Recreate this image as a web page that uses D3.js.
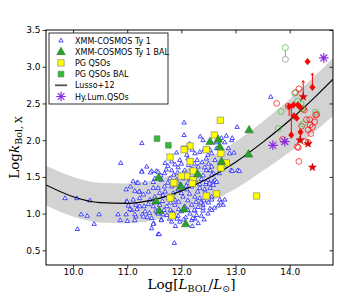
<!DOCTYPE html>
<html lang="en">
  <head>
    <meta charset="UTF-8"/>
    <title>Bolometric correction</title>
    <script src="https://cdn.jsdelivr.net/npm/d3@7"></script>
    <style>
      body { margin: 0; background: #fff; }
      .tick text { font: 9px 'DejaVu Sans', sans-serif; fill: #000; }
      .axis path, .axis line { stroke: #000; stroke-width: 0.8px; }
      .legend text { font: 8px 'DejaVu Sans', sans-serif; }
      .axis-label { font-family: 'DejaVu Serif', serif; font-size: 13.5px; }
    </style>
  </head>
  <body>
    <script type="text/javascript">

        // ---- data ----
        const xTicks = [10, 11, 12, 13, 14]
        const yTicks = [0.5, 1.0, 1.5, 2.0, 2.5, 3.0, 3.5]

        // Lusso+12 relation and its grey band
        const curveX = [9.5, 10, 10.5, 11, 11.5, 12, 12.5, 13, 13.5, 14, 14.5, 14.8]
        const curveY = [1.39, 1.23, 1.15, 1.14, 1.19, 1.31, 1.48, 1.70, 1.97, 2.27, 2.61, 2.83]
        const bandHi = [1.65, 1.50, 1.42, 1.41, 1.46, 1.58, 1.76, 1.98, 2.25, 2.56, 2.90, 3.12]
        const bandLo = [1.11, 0.96, 0.88, 0.87, 0.91, 1.01, 1.15, 1.34, 1.58, 1.84, 2.14, 2.33]

        const xmmTy1 = [
          [9.85,1.21],[10.07,1.21],[10.31,1.18],[10.15,0.99],[10.26,0.97],[10.48,0.99],[10.39,0.86],[10.08,0.79],
          [10.88,1.69],[10.83,0.99],[10.99,1.17],[11.0,0.90],[11.11,1.44],[10.98,1.33],[11.02,1.11],[11.08,1.05],
          [11.16,0.96],[11.14,1.31],[11.18,1.42],[11.23,1.30],[11.27,1.58],[11.36,1.64],[11.45,1.58],[11.54,1.58],
          [11.30,1.26],[11.39,1.30],[11.48,1.35],[11.23,1.10],[11.33,1.03],[11.39,1.13],[11.45,0.94],[11.49,0.87],
          [11.45,0.80],[11.57,0.72],[11.63,0.92],[11.57,1.01],[11.66,0.99],
          [11.27,1.96],[11.27,1.57],[11.43,1.56],[11.20,1.42],[11.33,1.42],[11.48,1.43],[11.06,1.37],[11.22,1.30],
          [11.00,1.16],[11.11,1.19],[11.23,1.21],[11.42,1.19],[11.51,1.16],[11.16,1.12],[11.31,1.10],[11.48,1.10],
          [10.98,0.99],[11.05,1.06],[11.18,1.06],[11.14,0.99],[11.28,0.99],[11.41,1.01],[11.53,1.04],[10.87,0.91],
          [11.14,0.91],[11.30,0.96],[11.37,0.95],[11.48,0.86],
          [12.05,2.24],[11.91,1.83],[12.10,1.80],[12.25,1.82],[12.34,1.84],[12.20,1.87],[11.70,1.69],[11.82,1.71],
          [11.97,1.73],[12.29,1.73],[11.57,1.57],[11.69,1.55],[11.82,1.59],[11.94,1.63],[12.06,1.59],[12.19,1.61],
          [12.31,1.64],[12.43,1.63],[12.53,1.59],[12.59,1.55],[11.51,1.48],[11.63,1.46],[11.79,1.48],[11.91,1.46],
          [12.03,1.48],[12.16,1.48],[12.37,1.47],[12.49,1.46],[12.59,1.44],[11.57,1.35],[11.69,1.37],[11.82,1.37],
          [11.94,1.33],[12.10,1.33],[12.19,1.37],[12.34,1.35],[12.43,1.33],[12.53,1.35],[11.51,1.23],[11.66,1.25],
          [11.76,1.21],[11.88,1.19],[12.03,1.23],[12.25,1.23],[12.34,1.21],[12.47,1.25],[12.56,1.23],[11.60,1.12],
          [11.73,1.10],[11.88,1.12],[12.06,1.10],[12.19,1.12],[12.31,1.09],[12.40,1.12],[12.53,1.07],[11.57,1.00],
          [11.73,0.98],[11.85,1.01],[11.94,0.97],[12.16,1.00],[12.28,0.98],[12.37,0.97],[12.49,1.00],[11.63,0.91],
          [11.82,0.89],[11.97,0.89],[12.19,0.91],[12.31,0.87],[11.59,0.72],[11.89,0.83],[12.20,0.83],
          [11.62,1.52],[11.75,1.42],[11.86,1.53],[11.98,1.40],[12.12,1.42],[12.26,1.45],[12.40,1.52],[11.70,1.30],
          [11.85,1.28],[12.00,1.28],[12.15,1.27],[12.30,1.30],[12.45,1.40],[11.65,1.17],[11.80,1.15],[11.95,1.16],
          [12.12,1.18],[12.27,1.16],[12.42,1.18],[11.68,1.05],[11.80,1.05],[12.00,1.03],[12.12,1.05],[12.25,1.04],
          [12.40,1.04],[11.78,0.93],[11.92,0.93],[12.08,0.95],[12.25,0.93],[12.42,0.92],[11.75,1.65],[11.88,1.67],
          [12.00,1.68],[12.13,1.66],[12.24,1.68],[12.38,1.70],
          [13.03,2.18],[12.83,2.06],[12.74,2.03],[12.65,1.97],[12.80,1.97],[12.93,2.00],[12.53,1.87],[12.65,1.89],
          [12.87,1.89],[12.97,1.83],[12.89,1.82],[12.56,1.82],[12.46,1.75],[12.62,1.73],[12.83,1.70],[12.50,1.68],
          [12.92,1.59],[13.04,1.59],[12.46,1.59],[12.56,1.53],[12.62,1.46],[12.46,1.43],[12.52,1.41],[12.59,1.39],
          [12.65,1.43],[12.56,1.19],[12.50,1.15],[12.71,1.19],[12.80,1.19],[12.77,1.12],[12.68,1.11],[12.56,1.05],
          [13.07,1.58],[12.94,1.58],[12.73,1.15],[12.61,1.08],[12.24,1.05],[12.21,0.94],[12.36,1.15],[11.87,0.60],
          [12.40,1.08],[13.65,2.59],[12.05,2.07],[12.35,2.05],[12.40,2.00],[12.15,1.95],[12.42,1.87],[12.49,1.80],
          [12.94,2.03],[11.81,1.01],[11.95,1.06],[12.04,0.92],[12.34,1.40],[12.70,1.55],[12.44,1.29],[11.60,1.28],
          [12.09,1.38],[12.28,1.52],[11.93,1.56],[11.72,1.60],[12.12,1.75],[12.56,1.64]
        ]
        const xmmTy1Bal = [
          [11.58,1.49],[11.53,1.17],[11.59,1.04],[11.99,1.37],[12.30,1.54],[12.05,1.06],[12.08,0.86],
          [12.53,1.98],[12.68,2.01],[12.71,1.91],[12.74,1.71],[13.25,2.14],[13.24,1.81]
        ]
        const pgQsos = [
          [12.72,2.27],[12.61,2.07],[12.16,1.92],[12.46,1.87],[12.83,1.69],[12.73,1.62],[12.73,1.82],[13.39,1.24],
          [12.46,1.24],[12.65,1.27],[12.06,1.88],[11.79,1.77],[12.16,1.71],[12.22,1.58],[12.10,1.51],[12.00,1.51],
          [12.22,1.46],[11.88,1.41],[11.81,1.22],[11.83,0.97],[12.05,1.87],[12.20,1.41],[11.86,1.42],[11.79,1.21]
        ]
        const pgQsosBal = [[11.55,2.02],[11.76,1.93]]

        // high-luminosity samples on the right
        const redCircles = [
          [13.76,2.50],[14.17,2.70],[14.11,2.65],[13.97,2.46],[14.25,2.43],[14.31,2.28],[14.22,2.19],[14.37,2.28],
          [14.38,2.21],[14.48,2.34],[14.34,2.14],[14.39,2.09],[14.28,1.98],[14.34,1.97],[14.16,1.90],[14.17,1.71],
          [13.87,2.01],[14.42,2.18],[14.46,2.25],[14.27,2.41],[14.14,1.91],[14.50,2.35]
        ]
        const redDiamonds = [
          [14.33,3.07],[14.42,2.72],[14.07,2.48],[14.15,2.48],[14.19,2.45],[13.99,2.46],[14.08,2.33],
          [14.13,2.30],[14.03,2.07],[14.20,2.11]
        ]
        const redStars = [[14.25,2.59],[14.19,2.00],[14.34,1.95],[14.42,1.63]]
        // lower limits: [x, yFrom, yTo]
        const redLimits = [[14.42,2.72,2.91],[14.25,2.59,2.81],[14.03,2.07,2.46],[13.99,2.33,2.47],[14.20,2.00,2.11]]
        const greenCircles = [
          [13.92,3.26],[14.09,2.64],[14.15,2.53],[13.84,2.39],[14.21,2.50],[14.23,2.43],[13.79,2.16],[14.48,2.38],
          [14.25,2.22]
        ]
        const grayCircles = [[13.92,3.10]]
        const hyLum = [[14.63,3.12],[13.69,1.93],[13.91,1.98]]

        const legendItems = ["XMM-COSMOS Ty 1", "XMM-COSMOS Ty 1 BAL", "PG QSOs", "PG QSOs BAL", "Lusso+12", "Hy.Lum.QSOs"]

        // ---- layout ----
        const outerWidth = 342, outerHeight = 296
        const margin = {top: 30, right: 9, bottom: 31, left: 46}
        const width = outerWidth - margin.left - margin.right
        const height = outerHeight - margin.top - margin.bottom

        const svg = d3.select("body").append("svg")
            .attr("width", outerWidth)
            .attr("height", outerHeight)

        const g = svg.append("g")
            .attr("transform", `translate(${margin.left},${margin.top})`)

        const xScale = d3.scaleLinear().domain([9.5, 14.8]).range([0, width])
        const yScale = d3.scaleLinear().domain([0.3, 3.5]).range([height, 0])

        g.append("clipPath").attr("id", "clip")
          .append("rect").attr("width", width).attr("height", height)

        const plot = g.append("g").attr("clip-path", "url(#clip)")

        // marker shapes
        const tri = r => `M0,${-r}L${r * 0.95},${r * 0.65}L${-r * 0.95},${r * 0.65}Z`
        const sq = r => `M${-r},${-r}H${r}V${r}H${-r}Z`
        const diamond = r => `M0,${-r}L${r * 0.8},0L0,${r}L${-r * 0.8},0Z`
        const star = (r) => {
          let p = ""
          for (let i = 0; i < 10; i++) {
            const a = -Math.PI / 2 + i * Math.PI / 5
            const rr = i % 2 ? r * 0.42 : r
            p += (i ? "L" : "M") + (rr * Math.cos(a)).toFixed(2) + "," + (rr * Math.sin(a)).toFixed(2)
          }
          return p + "Z"
        }
        const asterisk = r => {
          let p = ""
          for (let i = 0; i < 4; i++) {
            const a = i * Math.PI / 4
            p += `M${r * Math.cos(a)},${r * Math.sin(a)}L${-r * Math.cos(a)},${-r * Math.sin(a)}`
          }
          return p
        }
        const circ = r => d3.arc()({innerRadius: 0, outerRadius: r, startAngle: 0, endAngle: 2 * Math.PI})

        const drawMarks = (data, path, style) => {
          const sel = plot.append("g").selectAll("path")
            .data(data)
            .join("path")
            .attr("transform", d => `translate(${xScale(d[0])},${yScale(d[1])})`)
            .attr("d", path)
          Object.entries(style).forEach(([k, v]) => sel.attr(k, v))
        }

        // band and relation
        const band = d3.area()
            .x((d, i) => xScale(curveX[i]))
            .y0((d, i) => yScale(bandLo[i]))
            .y1((d, i) => yScale(bandHi[i]))
            .curve(d3.curveMonotoneX)
        plot.append("path").datum(curveX).attr("d", band).attr("fill", "#d3d3d3")

        drawMarks(xmmTy1, tri(2.3), {fill: "#fff", stroke: "#1f1fff", "stroke-width": 0.8})

        const line = d3.line()
            .x((d, i) => xScale(curveX[i]))
            .y((d, i) => yScale(curveY[i]))
            .curve(d3.curveMonotoneX)
        plot.append("path").datum(curveX).attr("d", line)
            .attr("fill", "none").attr("stroke", "#000").attr("stroke-width", 1.2)

        drawMarks(pgQsos, sq(3.2), {fill: "#ffff00", stroke: "#777", "stroke-width": 0.6})
        drawMarks(pgQsosBal, sq(2.9), {fill: "#33bb33", stroke: "#777", "stroke-width": 0.6})
        drawMarks(xmmTy1Bal, tri(4.5), {fill: "#2ca02c", stroke: "#1a6a1a", "stroke-width": 0.5})

        // lower-limit arrows
        plot.append("g").selectAll("line")
          .data(redLimits)
          .join("line")
          .attr("x1", d => xScale(d[0])).attr("x2", d => xScale(d[0]))
          .attr("y1", d => yScale(d[1])).attr("y2", d => yScale(d[2]))
          .attr("stroke", "#f00").attr("stroke-width", 1)
        drawMarks(redLimits.map(d => [d[0], d[2]]), () => "M-1.5,2L0,0L1.5,2", {fill: "none", stroke: "#f00", "stroke-width": 1})

        plot.append("line")
          .attr("x1", xScale(13.92)).attr("x2", xScale(13.92))
          .attr("y1", yScale(3.22)).attr("y2", yScale(3.14))
          .attr("stroke", "#999").attr("stroke-width", 1)

        drawMarks(redCircles, circ(2.9), {fill: "none", stroke: "#f00", "stroke-width": 0.7})
        drawMarks(greenCircles, circ(3), {fill: "none", stroke: "#3cc03c", "stroke-width": 0.7})
        drawMarks(grayCircles, circ(3), {fill: "none", stroke: "#888", "stroke-width": 0.7})
        drawMarks(redDiamonds, diamond(3.4), {fill: "#f00", stroke: "#c00", "stroke-width": 0.4})
        drawMarks(redStars, star(4.2), {fill: "#e00", stroke: "#900", "stroke-width": 0.4})
        drawMarks(hyLum, asterisk(4.8), {fill: "none", stroke: "#8a2be2", "stroke-width": 1.2})

        // axes
        g.append("g").attr("class", "axis")
          .attr("transform", `translate(0,${height})`)
          .call(d3.axisBottom(xScale).tickValues(xTicks).tickSize(3.5).tickSizeOuter(0).tickPadding(0.5))
        g.append("g").attr("class", "axis")
          .call(d3.axisLeft(yScale).tickValues(yTicks).tickFormat(d3.format(".1f")).tickSize(3.5).tickSizeOuter(0).tickPadding(2))
        g.append("g").attr("class", "axis")
          .call(d3.axisTop(xScale).tickValues(xTicks).tickSize(-3.5).tickFormat("").tickSizeOuter(0))
        g.append("g").attr("class", "axis")
          .attr("transform", `translate(${width},0)`)
          .call(d3.axisRight(yScale).tickValues(yTicks).tickSize(-3.5).tickFormat("").tickSizeOuter(0))
        g.selectAll(".axis .domain").remove()
        g.append("rect").attr("width", width).attr("height", height)
          .attr("fill", "none").attr("stroke", "#000").attr("stroke-width", 1)

        // axis labels
        const xl = svg.append("text").attr("class", "axis-label")
          .attr("x", margin.left + width / 2 + 2).attr("y", 289).attr("text-anchor", "middle")
        xl.append("tspan").text("Log[")
        xl.append("tspan").attr("font-style", "italic").text("L")
        xl.append("tspan").attr("font-size", "9.5px").attr("dy", 3).text("BOL")
        xl.append("tspan").attr("dy", -3).text("/")
        xl.append("tspan").attr("font-style", "italic").text("L")
        xl.append("tspan").attr("font-size", "9.5px").attr("dy", 3).text("⊙")
        xl.append("tspan").attr("dy", -3).text("]")

        const yl = svg.append("text").attr("class", "axis-label")
          .attr("transform", `translate(19,${margin.top + height / 2}) rotate(-90)`)
          .attr("text-anchor", "middle")
        yl.append("tspan").text("Log")
        yl.append("tspan").attr("font-style", "italic").text("k")
        yl.append("tspan").attr("font-size", "9.5px").attr("dy", 3).text("Bol, X")

        // legend
        const lg = svg.append("g").attr("class", "legend").attr("transform", "translate(49,33)")
        lg.append("rect").attr("width", 119).attr("height", 71)
          .attr("fill", "#fff").attr("stroke", "#000").attr("stroke-width", 0.8)
        const legendMarks = [
          sel => sel.append("path").attr("d", tri(2.3)).attr("fill", "#fff").attr("stroke", "#1f1fff").attr("stroke-width", 0.8),
          sel => sel.append("path").attr("d", tri(4.5)).attr("fill", "#2ca02c").attr("stroke", "#1a6a1a").attr("stroke-width", 0.5),
          sel => sel.append("path").attr("d", sq(3.2)).attr("fill", "#ffff00").attr("stroke", "#777").attr("stroke-width", 0.6),
          sel => sel.append("path").attr("d", sq(2.9)).attr("fill", "#33bb33").attr("stroke", "#777").attr("stroke-width", 0.6),
          sel => sel.append("line").attr("x1", -6).attr("x2", 6).attr("stroke", "#555").attr("stroke-width", 1.8),
          sel => sel.append("path").attr("d", asterisk(4.8)).attr("fill", "none").attr("stroke", "#8a2be2").attr("stroke-width", 1.2)
        ]
        legendItems.forEach((name, i) => {
          const row = lg.append("g").attr("transform", `translate(0,${7.5 + i * 11.2})`)
          legendMarks[i](row.append("g").attr("transform", "translate(12,0)"))
          row.append("text").attr("x", 26).attr("y", 3).text(name)
        })

    </script>
  </body>
</html>
